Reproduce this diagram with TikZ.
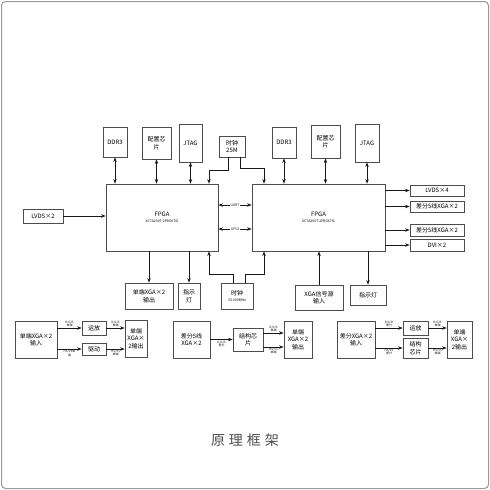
\documentclass[tikz,border=0pt]{standalone}
\usepackage{fontspec}
\setmainfont{Noto Sans CJK SC}
\usetikzlibrary{arrows.meta,positioning}

\begin{document}
\begin{tikzpicture}[x=1pt,y=-1pt,
  >={Stealth[length=4.6pt,width=3.4pt]},
  blk/.style={draw=black!70,line width=0.6pt,inner sep=0.5pt,align=center,
    font=\fontsize{6}{7.5}\selectfont},
  tag/.style={inner sep=0.8pt,align=center,font=\fontsize{3}{3.4}\selectfont},
  bus/.style={fill=white,inner sep=0.6pt,font=\fontsize{3.5}{4}\selectfont},
  wire/.style={line width=0.75pt,black!90}]
\useasboundingbox (0,0) rectangle (490,490);
\draw [black!40,line width=1pt,rounded corners=4pt] (1.5,1.5) rectangle (488.5,488.5);

% top row
\node [blk,minimum width=24,minimum height=30] (ddrA) at (115,142) {DDR3};
\node [blk,minimum width=29,minimum height=32] (cfgA) at (156.5,143) {配置芯\\片};
\node [blk,minimum width=23,minimum height=38] (jtagA) at (190.5,143) {JTAG};
\node [blk,minimum width=26,minimum height=21] (clkA) at (232,146.5) {时钟\\25M};
\node [blk,minimum width=24,minimum height=31] (ddrB) at (284,142.5) {DDR3};
\node [blk,minimum width=29,minimum height=33] (cfgB) at (325.5,141.5) {配置芯\\片};
\node [blk,minimum width=24,minimum height=38] (jtagB) at (367,143) {JTAG};

% the two FPGAs
\node [blk,minimum width=112,minimum height=67] (fpgaA) at (162,217.5)
  {FPGA\\[-1pt]{\fontsize{3.5}{4}\selectfont XC7A200T-2FBG676I}};
\node [blk,minimum width=133,minimum height=67] (fpgaB) at (318.5,217.5)
  {FPGA\\[-1pt]{\fontsize{3.5}{4}\selectfont XC7A200T-2FBG676I}};

% left and right
\node [blk,minimum width=40,minimum height=14] (lvdsIn) at (43,216) {LVDS×2};
\node [blk,minimum width=54,minimum height=11] (lvdsOut) at (437,190.5) {LVDS×4};
\node [blk,minimum width=54,minimum height=11] (diffA) at (437,206.5) {差分5线XGA×2};
\node [blk,minimum width=54,minimum height=12] (diffB) at (437,230) {差分5线XGA×2};
\node [blk,minimum width=54,minimum height=12] (dviOut) at (437,245) {DVI×2};

% under the FPGAs
\node [blk,minimum width=48,minimum height=26] (xgaOut) at (149,296) {单端XGA×2\\输出};
\node [blk,minimum width=22,minimum height=26] (ledA) at (189,296) {指示\\灯};
\node [blk,minimum width=32,minimum height=26] (clkB) at (237,296)
  {时钟\\[-1pt]{\fontsize{3.5}{4}\selectfont 33.000MHz}};
\node [blk,minimum width=48,minimum height=25] (srcIn) at (319,297.5) {XGA信号源\\输入};
\node [blk,minimum width=36,minimum height=20] (ledB) at (368,295) {指示灯};

% bottom row
\node [blk,minimum width=42,minimum height=37] (inA) at (36,339.5) {单端XGA×2\\输入};
\node [blk,minimum width=24,minimum height=14] (opA) at (94,328) {运放};
\node [blk,minimum width=24,minimum height=12] (drvA) at (94,349) {驱动};
\node [blk,minimum width=22,minimum height=37] (outA) at (136,338.5) {单端\\XGA×\\2输出};
\node [blk,minimum width=37,minimum height=37] (inB) at (191.5,339.5) {差分5线\\XGA×2};
\node [blk,minimum width=30,minimum height=23] (chipB) at (248,339.5) {结构芯\\片};
\node [blk,minimum width=28,minimum height=37] (outB) at (298,339.5) {单端\\XGA×2\\输出};
\node [blk,minimum width=38,minimum height=37] (inC) at (356,339.5) {差分XGA×2\\输入};
\node [blk,minimum width=25,minimum height=14] (opC) at (415.5,328) {运放};
\node [blk,minimum width=25,minimum height=20] (chipC) at (415.5,348) {结构\\芯片};
\node [blk,minimum width=25,minimum height=37] (outC) at (459.5,339.5) {单端\\XGA×\\2输出};

\node [text=black!70,font=\fontsize{14}{16}\selectfont] (title) at (245,440)
  {原\hspace{4pt}理\hspace{4pt}框\hspace{4pt}架};

% FPGA links
\foreach \n in {ddrA,cfgA,jtagA}
  \draw [wire,<->] (\n.south) -- (\n.south |- fpgaA.north);
\foreach \n in {ddrB,cfgB,jtagB}
  \draw [wire,<->] (\n.south) -- (\n.south |- fpgaB.north);
\draw [wire,->] ([xshift=-4pt]clkA.south) -- ++(0,13) -| ([xshift=47pt]fpgaA.north);
\draw [wire,->] ([xshift=8pt]clkA.south) -- ++(0,11) -| ([xshift=-54.5pt]fpgaB.north);
\draw [wire,->] ([xshift=-4pt]clkB.north) -- ++(0,-8) -| ([xshift=47pt]fpgaA.south);
\draw [wire,->] ([xshift=8pt]clkB.north) -- ++(0,-8) -| ([xshift=-54.5pt]fpgaB.south);
\draw [wire,<->] (fpgaA.east |- 0,205) -- node [bus] {UART} (fpgaB.west |- 0,205);
\draw [wire,<->] (fpgaA.east |- 0,229) -- node [bus] {GPIO} (fpgaB.west |- 0,229);
\draw [wire,->] (lvdsIn.east) -- (lvdsIn.east -| fpgaA.west);
\foreach \n in {lvdsOut,diffA,diffB,dviOut}
  \draw [wire,->] (\n.west -| fpgaB.east) -- (\n.west);
\draw [wire,->] (xgaOut.north |- fpgaA.south) -- (xgaOut.north);
\draw [wire,->] (ledA.north |- fpgaA.south) -- (ledA.north);
\draw [wire,->] (srcIn.north) -- (srcIn.north |- fpgaB.south);
\draw [wire,->] (ledB.north |- fpgaB.south) -- (ledB.north);

% bottom chains
\draw [wire,->] (inA.east |- opA) -- node [tag,above] {R/G/B\\单端} (opA.west);
\draw [wire,->] (inA.east |- drvA) -- node [tag,below] {HS/VS单\\端} (drvA.west);
\draw [wire,->] (opA.east) -- node [tag,above] {R/G/B\\单端} (opA.east -| outA.west);
\draw [wire,->] (drvA.east) -- node [tag,below] {HS/VS\\单端} (drvA.east -| outA.west);
\draw [wire,->] (inB.east |- chipB) -- node [tag,below] {R/G/B\\差分} (chipB.west);
\draw [wire,->] (chipB.east |- 0,333) -- node [tag,above] {R/G/B\\单端} (outB.west |- 0,333);
\draw [wire,->] (chipB.east |- 0,347) -- node [tag,below] {HS/VS\\单端} (outB.west |- 0,347);
\draw [wire,->] (inC.east |- opC) -- node [tag,above] {R/G/B\\差分} (opC.west);
\draw [wire,->] (inC.east |- chipC) -- node [tag,below] {HS/VS\\差分} (chipC.west);
\draw [wire,->] (opC.east) -- node [tag,above] {R/G/B\\单端} (opC.east -| outC.west);
\draw [wire,->] (chipC.east) -- node [tag,below] {HS/VS\\单端} (chipC.east -| outC.west);
\end{tikzpicture}
\end{document}
